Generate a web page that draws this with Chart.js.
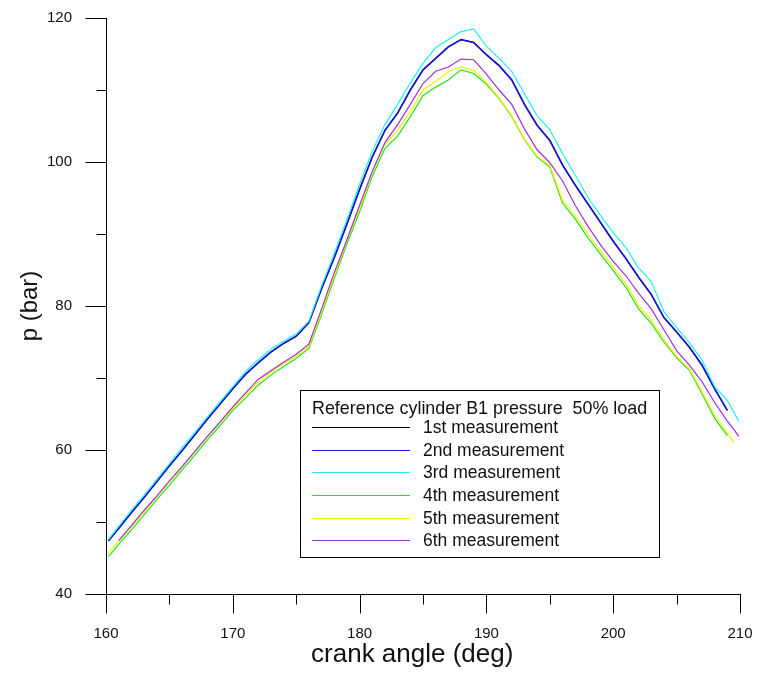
<!DOCTYPE html>
<html>
<head>
<meta charset="utf-8">
<title>Reference cylinder B1 pressure</title>
<script src="https://cdn.jsdelivr.net/npm/chart.js@4/dist/chart.umd.min.js"></script>
<style>
  html, body { margin: 0; padding: 0; background: #fff; }
  #wrap { width: 757px; height: 673px; }
</style>
</head>
<body>
<div id="wrap"><canvas id="c" width="757" height="673"></canvas></div>
<script>
// crank angle (deg)
const angles = [160.2, 161, 162, 163, 164, 165, 166, 167, 168, 169, 170, 171, 172, 173, 174, 175, 176, 177, 178, 179,
  180, 181, 182, 183, 184, 185, 186, 187, 188, 189, 190, 191, 192, 193, 194, 195, 196, 197, 198, 199,
  200, 201, 202, 203, 204, 205, 206, 207, 208, 209, 209.5, 209.9];

// cylinder pressure p (bar), one list per measurement
const meas1 = [47.4, 49.1, 51.3, 53.4, 55.6, 57.8, 59.9, 62.1, 64.3, 66.4, 68.5, 70.5, 72.1, 73.6, 74.8, 75.8, 77.7, 82.4, 86.7, 91.4,
  96.2, 100.7, 104.4, 106.8, 110.0, 112.8, 114.4, 116.0, 117.0, 116.6, 114.9, 113.4, 111.4, 108.0, 105.1, 103.0, 99.6, 96.8, 94.2, 91.6,
  89.0, 86.6, 84.0, 81.6, 78.4, 76.4, 74.3, 71.8, 68.5, 65.5, null, null];
const meas2 = [47.4, 49.1, 51.3, 53.4, 55.6, 57.8, 59.9, 62.1, 64.3, 66.4, 68.5, 70.5, 72.1, 73.6, 74.8, 75.8, 77.7, 82.4, 86.7, 91.4,
  96.2, 100.7, 104.4, 106.8, 110.0, 112.8, 114.4, 116.0, 117.0, 116.6, 114.9, 113.4, 111.4, 108.0, 105.1, 103.0, 99.6, 96.8, 94.2, 91.6,
  89.0, 86.6, 84.0, 81.6, 78.4, 76.4, 74.3, 71.8, 68.5, 65.5, null, null];
const meas3 = [47.6, 49.4, 51.6, 53.7, 55.9, 58.1, 60.3, 62.4, 64.6, 66.7, 68.8, 70.9, 72.5, 74.0, 75.1, 76.1, 77.9, 82.8, 87.3, 92.0,
  96.9, 101.5, 105.2, 108.0, 111.0, 113.7, 115.9, 117.0, 118.1, 118.5, 116.1, 114.4, 112.6, 109.5, 106.4, 104.5, 101.2, 98.2, 95.1, 92.6,
  90.2, 88.1, 85.3, 83.4, 79.2, 77.0, 74.9, 72.5, 68.8, 66.9, 65.3, 64.0];
const meas4 = [45.2, 46.9, 48.9, 51.0, 53.1, 55.1, 57.2, 59.3, 61.4, 63.4, 65.5, 67.2, 69.0, 70.4, 71.6, 72.7, 74.1, 78.8, 83.8, 88.6,
  93.1, 98.0, 101.9, 103.6, 106.3, 109.2, 110.4, 111.4, 112.8, 112.3, 110.8, 108.8, 106.3, 103.1, 100.7, 99.3, 94.3, 92.1, 89.5, 87.2,
  84.9, 82.6, 79.6, 77.6, 75.0, 72.8, 71.1, 67.8, 64.4, 62.0, null, null];
const meas5 = [45.7, 47.3, 49.3, 51.4, 53.5, 55.5, 57.6, 59.7, 61.8, 63.8, 65.8, 67.6, 69.4, 70.8, 72.0, 73.0, 74.4, 79.2, 84.2, 89.0,
  93.6, 98.5, 102.5, 104.4, 107.0, 110.0, 111.2, 112.5, 113.2, 112.7, 111.0, 108.9, 106.4, 103.2, 100.8, 99.5, 94.7, 92.5, 90.0, 87.7,
  85.4, 83.1, 80.1, 78.0, 75.3, 73.0, 71.3, 68.1, 64.8, 62.3, 61.05, null];
const meas6 = [null, 47.4, 49.5, 51.6, 53.6, 55.7, 57.7, 59.8, 61.9, 63.9, 66.0, 67.9, 69.8, 71.0, 72.2, 73.3, 74.7, 79.6, 84.6, 89.2,
  94.0, 98.7, 102.7, 105.2, 108.0, 110.9, 112.6, 113.2, 114.3, 114.2, 112.2, 110.0, 108.0, 104.6, 101.7, 99.9, 97.4, 94.0, 91.1, 88.5,
  86.2, 84.2, 81.8, 79.6, 76.7, 73.8, 71.8, 69.5, 66.6, 64.0, 62.9, 61.9];

const seriesLabels = ['1st measurement', '2nd measurement', '3rd measurement', '4th measurement', '5th measurement', '6th measurement'];
const seriesColors = ['#000000', '#1414d8', '#22f0f0', '#22e022', '#f2f200', '#a030d8'];
const legendTitle = 'Reference cylinder B1 pressure  50% load';
const xTitle = 'crank angle (deg)';
const yTitle = 'p (bar)';
const xRange = [160, 210];
const yRange = [40, 120];

const FONT = "'Liberation Sans', Arial, Helvetica, sans-serif";

function toPoints(vals) {
  return angles.map((a, i) => ({ x: a, y: vals[i] }));
}

const allSeries = [meas1, meas2, meas3, meas4, meas5, meas6];
const datasets = allSeries.map((vals, i) => ({
  label: seriesLabels[i],
  data: toPoints(vals),
  borderColor: seriesColors[i],
  backgroundColor: seriesColors[i],
  borderWidth: i === 1 ? 1.6 : 1.2,
  pointRadius: 0,
  tension: 0,
  spanGaps: false,
  order: allSeries.length - i
}));

// outward axis ticks: long at labelled values, short in between; axis titles
const axisFrame = {
  id: 'axisFrame',
  afterDraw(chart) {
    const { ctx, chartArea: a, scales: { x, y } } = chart;
    ctx.save();
    ctx.strokeStyle = '#000';
    ctx.lineWidth = 1;
    ctx.beginPath();
    const L = Math.round(a.left) + 0.5;
    const B = Math.round(a.bottom) + 0.5;
    ctx.moveTo(L, Math.round(a.top));
    ctx.lineTo(L, B);
    ctx.moveTo(L, B);
    ctx.lineTo(Math.round(a.right) + 1, B);
    for (let v = xRange[0]; v <= xRange[1]; v += 5) {
      const px = Math.round(x.getPixelForValue(v)) + 0.5;
      const len = v % 10 === 0 ? 19 : 10;
      ctx.moveTo(px, B);
      ctx.lineTo(px, B + len);
    }
    for (let v = yRange[0]; v <= yRange[1]; v += 10) {
      const py = Math.round(y.getPixelForValue(v)) + 0.5;
      const len = v % 20 === 0 ? 21 : 10;
      ctx.moveTo(L, py);
      ctx.lineTo(L - len, py);
    }
    ctx.stroke();

    ctx.fillStyle = '#111';
    ctx.textAlign = 'center';
    ctx.textBaseline = 'middle';
    ctx.font = '26px ' + FONT;
    ctx.fillText(xTitle, a.left + (a.right - a.left) * 0.483, 655);
    ctx.translate(30, (a.top + a.bottom) / 2);
    ctx.rotate(-Math.PI / 2);
    ctx.font = '24px ' + FONT;
    ctx.fillText(yTitle, 0, 0);
    ctx.restore();
  }
};

// boxed legend with a heading line inside the plot
const boxLegend = {
  id: 'boxLegend',
  afterDraw(chart) {
    const { ctx } = chart;
    const bx = 300.5, by = 390.5, bw = 359, bh = 167;
    ctx.save();
    ctx.fillStyle = '#fff';
    ctx.fillRect(bx, by, bw, bh);
    ctx.strokeStyle = '#000';
    ctx.lineWidth = 1;
    ctx.strokeRect(bx, by, bw, bh);
    ctx.fillStyle = '#111';
    ctx.font = '17.9px ' + FONT;
    ctx.textBaseline = 'middle';
    ctx.textAlign = 'left';
    ctx.fillText(legendTitle, 312, 409);
    chart.data.datasets.forEach((ds, i) => {
      const yy = Math.round(427.3 + i * 22.55) + 0.5;
      ctx.strokeStyle = ds.borderColor;
      ctx.lineWidth = 1;
      ctx.beginPath();
      ctx.moveTo(312, yy);
      ctx.lineTo(410, yy);
      ctx.stroke();
      ctx.fillStyle = '#111';
      ctx.font = '17.5px ' + FONT;
      ctx.fillText(ds.label, 423, yy + 0.5);
    });
    ctx.restore();
  }
};

function noEdgePadding(s) {
  s.paddingTop = 0;
  s.paddingBottom = 0;
  s.paddingLeft = 0;
  s.paddingRight = 0;
}

new Chart(document.getElementById('c'), {
  type: 'line',
  data: { datasets },
  plugins: [axisFrame, boxLegend],
  options: {
    responsive: false,
    animation: false,
    devicePixelRatio: 1,
    layout: { padding: { top: 18, right: 17, left: 0, bottom: 0 } },
    plugins: { legend: { display: false }, tooltip: { enabled: false } },
    scales: {
      x: {
        type: 'linear',
        min: xRange[0], max: xRange[1],
        grid: { display: false, drawTicks: false },
        border: { display: false },
        ticks: { stepSize: 10, padding: 31, color: '#111', font: { family: FONT, size: 15 }, maxRotation: 0 },
        afterFit(s) { s.height = 79; noEdgePadding(s); }
      },
      y: {
        type: 'linear',
        min: yRange[0], max: yRange[1],
        grid: { display: false, drawTicks: false },
        border: { display: false },
        ticks: { stepSize: 20, padding: 34, color: '#111', font: { family: FONT, size: 15 } },
        afterFit(s) { s.width = 106; noEdgePadding(s); }
      }
    }
  }
});
</script>
</body>
</html>
